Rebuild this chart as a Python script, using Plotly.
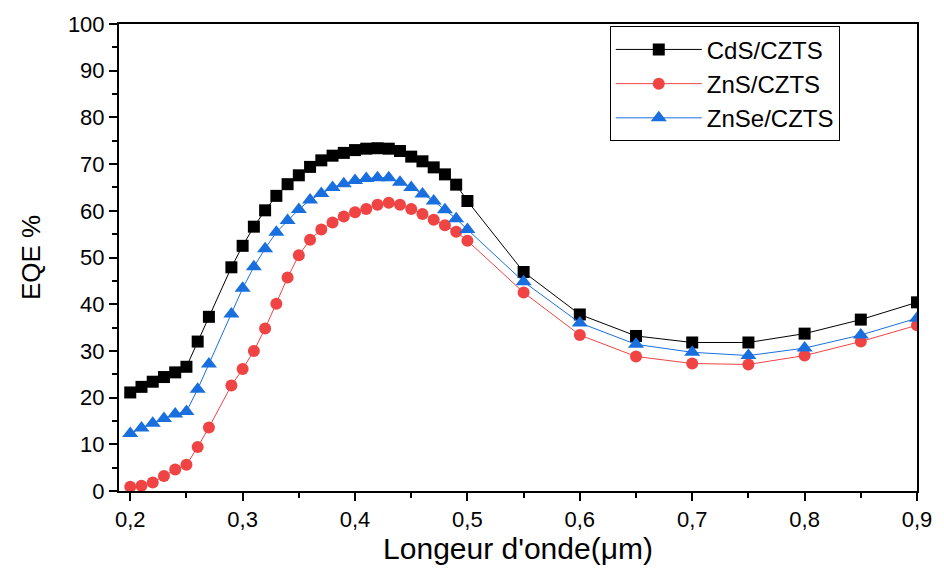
import plotly.graph_objects as go

# Wavelength grid (µm) – no sample at 0.28
wavelength = [0.20, 0.21, 0.22, 0.23, 0.24, 0.25, 0.26, 0.27,
              0.29, 0.30, 0.31, 0.32, 0.33, 0.34, 0.35, 0.36, 0.37, 0.38, 0.39,
              0.40, 0.41, 0.42, 0.43, 0.44, 0.45, 0.46, 0.47, 0.48, 0.49, 0.50,
              0.55, 0.60, 0.65, 0.70, 0.75, 0.80, 0.85, 0.90]

eqe_cds = [21.1, 22.3, 23.4, 24.4, 25.4, 26.6, 32.0, 37.3,
           47.9, 52.5, 56.6, 60.1, 63.2, 65.7, 67.6, 69.4, 70.8, 71.8, 72.4,
           73.0, 73.3, 73.4, 73.3, 72.8, 71.6, 70.6, 69.3, 67.8, 65.6, 62.1,
           46.9, 37.8, 33.2, 31.8, 31.8, 33.7, 36.7, 40.4]

eqe_zns = [0.9, 1.1, 1.8, 3.2, 4.6, 5.6, 9.4, 13.6,
           22.6, 26.1, 30.0, 34.8, 40.1, 45.7, 50.5, 53.8, 56.0, 57.5, 58.8,
           59.7, 60.4, 61.3, 61.7, 61.3, 60.4, 59.3, 58.1, 56.9, 55.5, 53.6,
           42.5, 33.4, 28.8, 27.3, 27.1, 29.0, 32.0, 35.5]

eqe_znse = [12.3, 13.5, 14.5, 15.5, 16.5, 17.0, 21.8, 27.2,
            37.9, 43.4, 48.0, 51.9, 55.4, 57.9, 60.3, 62.3, 63.7, 65.0, 65.8,
            66.5, 66.9, 67.1, 67.1, 66.1, 65.0, 63.6, 62.1, 60.2, 58.3, 56.0,
            44.8, 36.0, 31.4, 29.7, 29.0, 30.6, 33.4, 37.0]

x_ticks = [0.2, 0.3, 0.4, 0.5, 0.6, 0.7, 0.8, 0.9]
x_tick_labels = ["0,2", "0,3", "0,4", "0,5", "0,6", "0,7", "0,8", "0,9"]
y_ticks = [0, 10, 20, 30, 40, 50, 60, 70, 80, 90, 100]

series = [
    ("CdS/CZTS", eqe_cds, "#000000", "square"),
    ("ZnS/CZTS", eqe_zns, "#f04444", "circle"),
    ("ZnSe/CZTS", eqe_znse, "#1a6fdf", "triangle-up"),
]

FONT = "Liberation Sans, Arial, sans-serif"

fig = go.Figure()
for name, values, color, symbol in series:
    fig.add_trace(go.Scatter(
        x=wavelength, y=values, name=name, mode="lines+markers",
        line=dict(color=color, width=1),
        marker=dict(symbol=symbol, color=color, size=12 if symbol != "triangle-up" else 14,
                    line=dict(width=0)),
    ))

axis_font = dict(family=FONT, size=22, color="#000000")

fig.update_layout(
    width=944, height=571,
    margin=dict(l=119, r=17, t=14, b=79),
    paper_bgcolor="white", plot_bgcolor="white",
    font=axis_font,
    showlegend=True,
    legend=dict(
        x=0.615, y=0.995, xanchor="left", yanchor="top",
        bgcolor="white", bordercolor="#000000", borderwidth=1,
        font=dict(family=FONT, size=24, color="#000000"),
        itemwidth=86, tracegroupgap=0,
    ),
)

fig.update_xaxes(
    range=[0.19, 0.9], tickvals=x_ticks, ticktext=x_tick_labels,
    showline=True, linecolor="#000000", linewidth=2, mirror=True,
    ticks="outside", ticklen=8, tickwidth=2, tickcolor="#000000",
    minor=dict(dtick=0.05, tick0=0.2, ticks="outside", ticklen=5, tickwidth=2, tickcolor="#000000"),
    showgrid=False, zeroline=False,
    tickfont=axis_font,
    title=dict(text="Longeur d'onde(μm)", font=dict(family=FONT, size=30), standoff=6),
)
fig.update_yaxes(
    range=[0, 100], tickvals=y_ticks,
    showline=True, linecolor="#000000", linewidth=2, mirror=True,
    ticks="outside", ticklen=8, tickwidth=2, tickcolor="#000000",
    minor=dict(dtick=5, tick0=0, ticks="outside", ticklen=5, tickwidth=2, tickcolor="#000000"),
    showgrid=False, zeroline=False,
    tickfont=axis_font,
    title=dict(text="EQE %", font=dict(family=FONT, size=26), standoff=20),
)

fig.write_html("out.html")
